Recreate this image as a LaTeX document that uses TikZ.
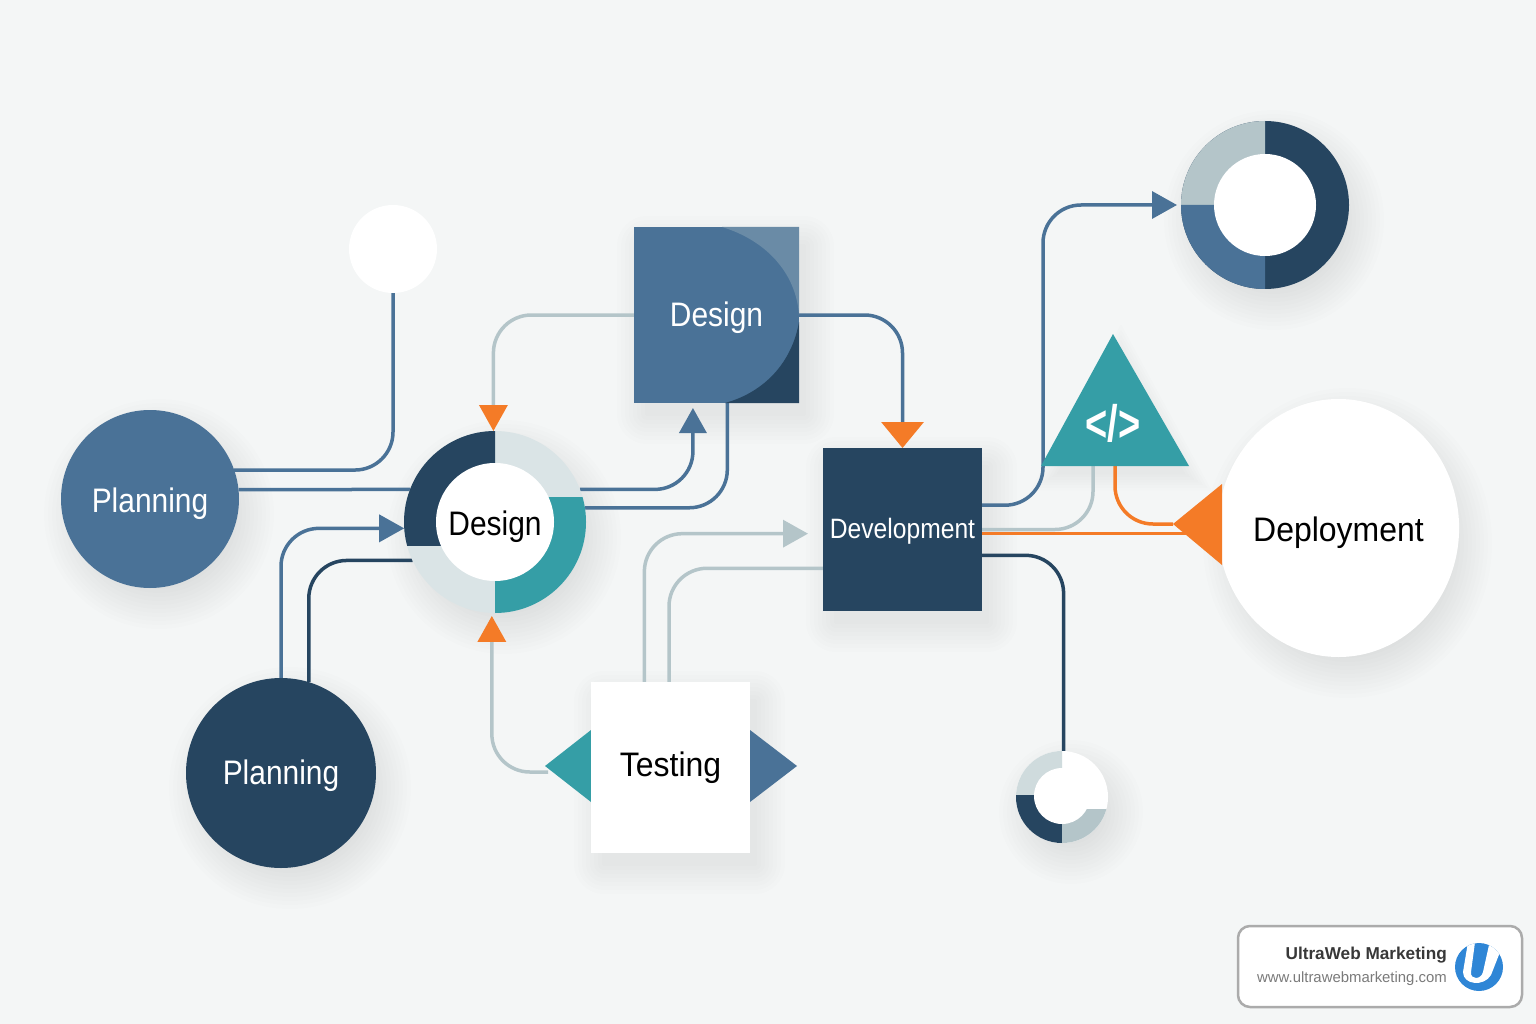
\documentclass[tikz,border=0pt]{standalone}
\usepackage{fontspec}
\usetikzlibrary{calc, arrows.meta, shapes.geometric}
\newfontfamily\labelfont[FakeStretch=0.88]{Liberation Sans}
\newfontfamily\wideLabelfont[FakeStretch=0.94]{Liberation Sans}
\newfontfamily\brandfont{Liberation Sans}

\definecolor{pageGrey}{HTML}{F4F6F6}
\definecolor{steelBlue}{HTML}{4A7297}
\definecolor{navyBlue}{HTML}{264560}
\definecolor{tealGreen}{HTML}{359EA6}
\definecolor{paleGrey}{HTML}{DAE4E6}
\definecolor{mistGrey}{HTML}{B4C5C9}
\definecolor{flameOrange}{HTML}{F47B27}
\definecolor{logoBlue}{HTML}{2F86D6}

\pgfdeclarelayer{back}
\pgfsetlayers{back,main}

\newcommand{\softDisc}[4]{%
	\foreach \grow in {-18,-14,...,26} {
		\fill[black, fill opacity=0.007] ({#1+9},{#2+15}) ellipse [x radius={#3+\grow}, y radius={#4+\grow}];
	}
}
\newcommand{\softBox}[4]{%
	\foreach \grow in {2,6,...,30} {
		\fill[black, fill opacity=0.007, rounded corners=\grow pt] ({#1+9-\grow+4},{#2+15-\grow+4}) rectangle ({#3+9+\grow-4},{#4+15+\grow-4});
	}
}

\tikzset{
	shapeBase/.style={inner sep=0pt, outer sep=0pt, draw=none},
	labelText/.style={font=\labelfont\fontsize{34}{36}\selectfont, text height=26pt, text depth=0pt},
	wideText/.style={font=\wideLabelfont\fontsize{34}{36}\selectfont, text height=26pt, text depth=0pt},
	linkLine/.style={line width=3.5pt, rounded corners=38pt},
	bigTip/.style={-{Triangle[length=25pt,width=27pt]}},
	orangeTip/.style={-{Triangle[length=26pt,width=28pt,color=flameOrange]}},
	wideOrangeTip/.style={-{Triangle[length=26pt,width=42pt,color=flameOrange]}},
}

\begin{document}
\begin{tikzpicture}[x=1pt, y=-1pt]

	\useasboundingbox (0,0) rectangle (1536,1024);

	\coordinate (tri_top) at (1113,334);
	\coordinate (tri_left) at (1041,466);
	\coordinate (tri_right) at (1189,466);
	\coordinate (tri_grey) at (1093,466);
	\coordinate (tri_orange) at (1115,466);
	\coordinate (bend_up) at (1043,350);
	\coordinate (deploy_tip) at (1173,524);
	\coordinate (deploy_high) at (1222,484);
	\coordinate (deploy_low) at (1222,565);
	\coordinate (test_tip) at (548,772);

	% Page and soft shadows
	\begin{pgfonlayer}{back}
		\fill[pageGrey] (0,0) rectangle (1536,1024);
		\softDisc{150}{499}{89}{89}
		\softDisc{281}{773}{95}{95}
		\softDisc{495}{522}{91}{91}
		\softDisc{1265}{205}{84}{84}
		\softDisc{1062}{797}{46}{46}
		\softDisc{1338.5}{528}{118.5}{129}
		\softBox{634}{227}{799}{403}
		\softBox{823}{448}{982}{611}
		\softBox{591}{682}{750}{853}
		\foreach \grow in {0.9,0.96,...,1.3} {
			\fill[black, fill opacity=0.007, shift={(1121,435)}, scale=\grow] (0,-88) -- (-72,44) -- (72,44) -- cycle;
		}
	\end{pgfonlayer}

	% Planning circles
	\node[shapeBase, circle, minimum size=178pt, fill=steelBlue, text=white, labelText] (planning_a) at (150,499) {Planning};
	\node[shapeBase, circle, minimum size=190pt, fill=navyBlue, text=white, labelText, text height=22pt] (planning_b) at (281,773) {Planning};
	\node[shapeBase, circle, minimum size=88pt, fill=white] (white_dot) at (393,249) {};

	% Central ring
	\node[shapeBase, circle, minimum size=182pt, fill=paleGrey] (ring_design) at (495,522) {};
	\begin{scope}
		\clip (400,425) rectangle (495,545);
		\fill[navyBlue] (ring_design) circle (91);
	\end{scope}
	\begin{scope}
		\clip (495,497) rectangle (590,620);
		\fill[tealGreen] (ring_design) circle (91);
	\end{scope}
	\node[shapeBase, circle, minimum size=118pt, fill=white, text=black, labelText] (ring_label) at (ring_design) {Design};

	% Design square
	\node[shapeBase, minimum width=165pt, minimum height=176pt, fill=steelBlue] (design_box) at (716.5,315) {};
	\fill[steelBlue!70!mistGrey] (722,227) -- (799,227) -- (799,315) .. controls (796,272) and (765,240) .. (722,227) -- cycle;
	\fill[navyBlue] (725,403) -- (799,403) -- (799,322) .. controls (792,362) and (765,392) .. (725,403) -- cycle;
	\node[text=white, labelText, text height=22pt] (design_label) at (716.5,315) {Design};

	% Development square
	\node[shapeBase, minimum width=159pt, minimum height=163pt, fill=navyBlue, text=white, font=\labelfont\fontsize{28}{30}\selectfont, text height=18pt, text depth=0pt] (dev_box) at (902.5,529.5) {Development};

	% Testing square and its side triangles
	\fill[tealGreen] (591,730) -- (545,766) -- (591,802) -- cycle;
	\fill[steelBlue] (750,730) -- (797,766) -- (750,802) -- cycle;
	\node[shapeBase, minimum width=159pt, minimum height=171pt, fill=white, text=black, wideText, text height=18pt] (test_box) at (670.5,767.5) {Testing};

	% Top donut
	\node[shapeBase, circle, minimum size=168pt, fill=navyBlue] (donut) at (1265,205) {};
	\fill[mistGrey] (donut.center) -- (donut.north) arc[start angle=-90, end angle=-180, radius=84] -- cycle;
	\fill[steelBlue] (donut.center) -- (donut.west) arc[start angle=-180, end angle=-270, radius=84] -- cycle;
	\node[shapeBase, circle, minimum size=102pt, fill=white] (donut_hole) at (donut) {};

	% Small ring
	\node[shapeBase, circle, minimum size=92pt, fill=white] (small_ring) at (1062,797) {};
	\begin{scope}
		\clip (1010,745) rectangle (1062,795);
		\fill[paleGrey!70!mistGrey] (small_ring) circle (46);
	\end{scope}
	\begin{scope}
		\clip (1010,795) rectangle (1062,850);
		\fill[navyBlue] (small_ring) circle (46);
	\end{scope}
	\begin{scope}
		\clip (1062,809) rectangle (1115,850);
		\fill[mistGrey] (small_ring) circle (46);
	\end{scope}
	\node[shapeBase, circle, minimum size=56pt, fill=white] (small_hole) at (1062,796) {};

	% Code triangle
	\fill[tealGreen] (tri_top) -- (tri_left) -- (tri_right) -- cycle;
	\node[text=white, font=\brandfont\fontsize{38}{40}\selectfont\bfseries] (code_label) at (1113,423) {\scalebox{1}[1.35]{</>}};

	% Deployment circle
	\node[shapeBase, ellipse, minimum width=237pt, minimum height=258pt, fill=white, text=black, wideText] (deployment) at (1338.5,528) {Deployment};
	\fill[flameOrange] (deploy_tip) -- (deploy_high) -- (deploy_low) -- cycle;

	% Connectors
	\begin{pgfonlayer}{back}
		\draw[linkLine, steelBlue] (planning_a.19) -| (white_dot.south);
		\draw[linkLine, steelBlue] (planning_a.6) -- (ring_design.159);
		\draw[linkLine, steelBlue, bigTip] (planning_b.north) |- (ring_design.184);
		\draw[linkLine, navyBlue] (planning_b.73) |- (ring_design.205);
		\draw[linkLine, steelBlue, bigTip, shorten >=5pt] (ring_design.21) -| (design_box.-105);
		\draw[linkLine, steelBlue] (ring_design.9) -| (design_box.-83);
		\draw[linkLine, mistGrey, orangeTip] (design_box.west) -| (ring_design.91);
		\draw[linkLine, steelBlue, wideOrangeTip] (design_box.east) -| (dev_box.north);
		\draw[linkLine, steelBlue, bigTip, shorten >=4pt] (dev_box.17) -| (bend_up) |- (donut.west);
		\draw[linkLine, mistGrey] (dev_box.east) -| (tri_grey);
		\draw[linkLine, flameOrange] (dev_box.-3) -- (dev_box.-3 -| deploy_low);
		\draw[linkLine, flameOrange] (tri_orange) |- (deploy_tip);
		\draw[linkLine, navyBlue] (dev_box.-18) -| (small_ring.88);
		\draw[linkLine, mistGrey, bigTip, shorten >=15pt] (test_box.107) |- (dev_box.183);
		\draw[linkLine, mistGrey] (test_box.91) |- (dev_box.206);
		\draw[linkLine, mistGrey, orangeTip, shorten >=3pt] (test_tip) -| (ring_design.268);
	\end{pgfonlayer}

	% Brand badge
	\node[shapeBase, draw=black!33, line width=2.5pt, fill=white, rounded corners=12pt, minimum width=284pt, minimum height=81pt] (badge) at (1380,966.5) {};
	\node[anchor=base east, inner sep=0pt, text=black!78, font=\brandfont\bfseries\fontsize{17.2}{19}\selectfont] (badge_name) at (1447,959.5) {UltraWeb Marketing};
	\node[anchor=base east, inner sep=0pt, text=black!52, font=\brandfont\fontsize{14.9}{17}\selectfont] (badge_url) at (1447,982) {www.ultrawebmarketing.com};
	\node[shapeBase, circle, minimum size=48pt, fill=logoBlue] (badge_logo) at (1479,967) {};
	\begin{scope}
		\clip (badge_logo) circle (24);
		\fill[white] (1468,942) -- (1463,972) .. controls (1463,985) and (1484,987) .. (1491,975) -- (1500,952) -- (1496,945) -- (1489,945) -- (1483,972) .. controls (1481,980) and (1470,980) .. (1471,972) -- (1475,942) -- cycle;
	\end{scope}

\end{tikzpicture}
\end{document}
